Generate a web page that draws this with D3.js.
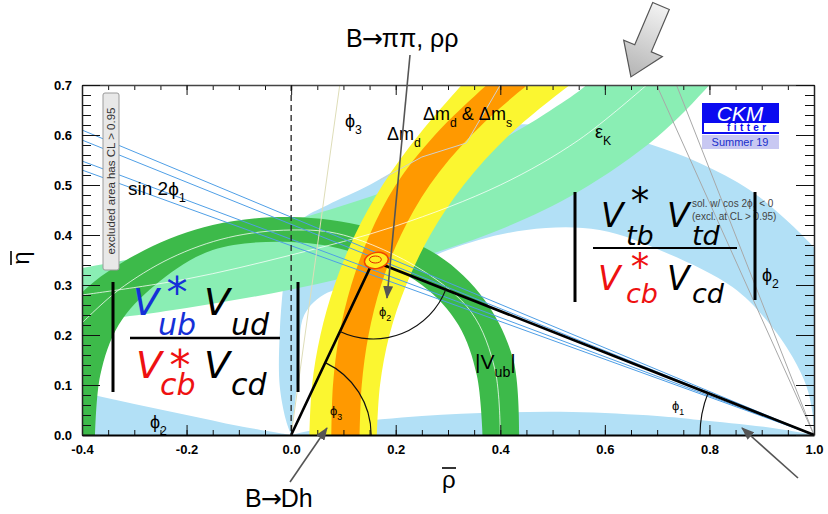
<!DOCTYPE html>
<html>
<head>
<meta charset="utf-8">
<title>CKM unitarity triangle</title>
<script src="https://d3js.org/d3.v7.min.js"></script>
<style>
body { margin: 0; background: #fff; }
text { font-family: "Liberation Sans", Arial, sans-serif; }
.formula { font-family: "DejaVu Sans", sans-serif; font-style: oblique; }
</style>
</head>
<body>
<svg id="chart" width="828" height="514"></svg>
<script>
// ---- values, in (rho-bar, eta-bar) ----
var xTicksMajor = [-0.4, -0.2, 0.0, 0.2, 0.4, 0.6, 0.8, 1.0];
var yTicksMajor = [0.0, 0.1, 0.2, 0.3, 0.4, 0.5, 0.6, 0.7];

var apex = [0.157, 0.348];
var fitPoint = [0.163, 0.349];

// phi2 (alpha) regions, light blue
var alphaOuter = [[1.02,0.35],[1.0,0.375],[0.947,0.43],[0.877,0.49],[0.781,0.544],[0.691,0.58],[0.6,0.605],[0.5,0.618],[0.42,0.62],[0.34,0.6],[0.25,0.56],[0.15,0.5],[0.07,0.46],[0.02,0.43],[-0.005,0.38],[-0.015,0.3],[-0.022,0.2],[-0.022,0.1],[-0.01,0.03],[0,0]];
var alphaInner = [[1.0,0],[0.997,0.044],[0.986,0.096],[0.959,0.156],[0.909,0.23],[0.844,0.296],[0.718,0.364],[0.59,0.41],[0.45,0.41],[0.3,0.37],[0.16,0.3],[0.07,0.285],[0.025,0.24],[0.015,0.15],[0.008,0.07],[0,0]];
var alphaLeftUpper = [[-0.45,0.095],[-0.4,0.085],[-0.3,0.062],[-0.2,0.04],[-0.1,0.018],[0,0]];
var alphaLeftLower = [[-0.45,0],[0,0]];
var alphaLowUpper = [[0,0],[0.1,0.022],[0.25,0.038],[0.4,0.045],[0.538,0.046],[0.7,0.038],[0.781,0.03],[0.921,0.014],[1,0]];
var alphaLowLower = [[0,0],[1,0]];

// epsilon_K, light green
var ekUpper = [[-0.45,0.325],[-0.4,0.334],[-0.2,0.374],[0,0.428],[0.2,0.495],[0.35,0.563],[0.45,0.619],[0.5,0.652],[0.565,0.70],[0.6,0.74]];
var ekLower = [[-0.45,0.218],[-0.4,0.225],[-0.2,0.254],[0,0.291],[0.2,0.341],[0.4,0.411],[0.55,0.487],[0.7,0.596],[0.8,0.70],[0.84,0.75]];
var ekCentre = [[-0.4,0.28],[-0.2,0.312],[0,0.36],[0.2,0.418],[0.4,0.5],[0.55,0.59],[0.68,0.7]];

// |Vub| ring, dark green
var vubOuter = [[0.436,0],[0.425,0.15],[0.37,0.27],[0.28,0.36],[0.15,0.415],[0,0.436],[-0.15,0.42],[-0.28,0.37],[-0.4,0.285],[-0.47,0.18],[-0.5,0]];
var vubInner = [[0.366,0],[0.355,0.12],[0.32,0.22],[0.25,0.3],[0.12,0.365],[0,0.386],[-0.15,0.37],[-0.26,0.3],[-0.33,0.22],[-0.365,0.12],[-0.375,0]];
var vubCentre = [[0.4,0],[0.39,0.13],[0.345,0.245],[0.25,0.33],[0.1,0.4],[0,0.41],[-0.12,0.395],[-0.23,0.354],[-0.33,0.29],[-0.4,0.224]];

// Delta m_d (yellow) and Delta m_d & Delta m_s (orange)
var dmdLeft  = [[0.035,0],[0.04,0.1],[0.056,0.2],[0.083,0.3],[0.122,0.4],[0.175,0.5],[0.244,0.6],[0.326,0.7],[0.37,0.75]];
var dmdRight = [[0.164,0],[0.17,0.1],[0.188,0.2],[0.22,0.3],[0.266,0.4],[0.33,0.5],[0.417,0.6],[0.533,0.7],[0.6,0.75]];
var dmsLeft  = [[0.077,0],[0.08,0.1],[0.092,0.2],[0.115,0.3],[0.15,0.4],[0.2,0.5],[0.275,0.6],[0.374,0.7],[0.43,0.75]];
var dmsRight = [[0.131,0],[0.135,0.1],[0.148,0.2],[0.172,0.3],[0.21,0.4],[0.265,0.5],[0.345,0.6],[0.452,0.7],[0.52,0.75]];
var dmsLine  = [[0.4,0.7],[0.335,0.584],[0.25,0.556],[0.17,0.51]];

// sin 2phi1: eta at rho = -0.4 of the lines through (1,0)
var s2bEta = [0.530, 0.548, 0.590, 0.610];
// cos 2phi1 < 0 solution: rho where the lines reach eta = 0.7
var s2bAltTop = [0.699, 0.737];
// phi3 faint line from the origin, rho at eta = 0.7
var gammaTop = [0.093];

// ---- layout ----
var svg = d3.select("#chart");
var margin = {top: 85, right: 14, bottom: 79, left: 82};
var width = 828 - margin.left - margin.right,
    height = 514 - margin.top - margin.bottom;

var x = d3.scaleLinear().domain([-0.4, 1.0]).range([0, width]);
var y = d3.scaleLinear().domain([0, 0.7]).range([height, 0]);

var defs = svg.append("defs");
defs.append("clipPath").attr("id", "plotclip")
  .append("rect").attr("width", width).attr("height", height);
defs.append("marker").attr("id", "head")
  .attr("markerUnits", "userSpaceOnUse")
  .attr("markerWidth", 13).attr("markerHeight", 10)
  .attr("refX", 12).attr("refY", 5).attr("orient", "auto")
  .append("path").attr("d", "M0,0L13,5L0,10Z").attr("fill", "#555");
var grad = defs.append("linearGradient").attr("id", "arrGrad")
  .attr("x1", 0).attr("y1", 0).attr("x2", 1).attr("y2", 0);
grad.append("stop").attr("offset", "0%").attr("stop-color", "#f2f2f2");
grad.append("stop").attr("offset", "100%").attr("stop-color", "#b4b4b4");

var g = svg.append("g")
  .attr("transform", "translate(" + margin.left + "," + margin.top + ")");
var plot = g.append("g").attr("clip-path", "url(#plotclip)");

var line = d3.line()
  .x(function(d) { return x(d[0]); })
  .y(function(d) { return y(d[1]); })
  .curve(d3.curveCatmullRom.alpha(0.5));
var straight = d3.line()
  .x(function(d) { return x(d[0]); })
  .y(function(d) { return y(d[1]); });

function band(a, b) {
  return line(a) + line(b.slice().reverse()).replace(/^M/, "L") + "Z";
}

// filled regions, back to front
var alphaCol = "#b2e0f6";
plot.append("path").attr("d", band(alphaOuter, alphaInner)).attr("fill", alphaCol);
plot.append("path").attr("d", band(alphaLeftUpper, alphaLeftLower)).attr("fill", alphaCol);
plot.append("path").attr("d", band(alphaLowUpper, alphaLowLower)).attr("fill", alphaCol);

plot.append("path").attr("d", band(ekUpper, ekLower)).attr("fill", "#8aeeb4");
plot.append("path").attr("d", band(vubOuter, vubInner)).attr("fill", "#3dba4a");
plot.append("path").attr("d", band(dmdLeft, dmdRight)).attr("fill", "#fbf630");
plot.append("path").attr("d", band(dmsLeft, dmsRight)).attr("fill", "#ff9900");

// faint central lines
plot.append("path").attr("d", line(ekCentre)).attr("fill", "none")
  .attr("stroke", "#ffffff").attr("stroke-opacity", 0.75).attr("stroke-width", 1);
plot.append("path").attr("d", line(vubCentre)).attr("fill", "none")
  .attr("stroke", "#ffffff").attr("stroke-opacity", 0.75).attr("stroke-width", 1);
plot.append("path").attr("d", straight(dmsLine)).attr("fill", "none")
  .attr("stroke", "#d0d0d0").attr("stroke-width", 1);

// sin 2phi1 lines
plot.selectAll(".s2b").data(s2bEta).enter().append("line")
  .attr("x1", x(1)).attr("y1", y(0))
  .attr("x2", x(-0.4)).attr("y2", function(d) { return y(d); })
  .attr("stroke", "#4f9fe6").attr("stroke-width", 1);
plot.selectAll(".s2balt").data(s2bAltTop).enter().append("line")
  .attr("x1", x(1)).attr("y1", y(0))
  .attr("x2", function(d) { return x(d); }).attr("y2", y(0.7))
  .attr("stroke", "#a8a8a8").attr("stroke-width", 1);
plot.selectAll(".gam").data(gammaTop).enter().append("line")
  .attr("x1", x(0)).attr("y1", y(0))
  .attr("x2", function(d) { return x(d); }).attr("y2", y(0.7))
  .attr("stroke", "#deddb8").attr("stroke-width", 1);

// rho = 0 dashed line
plot.append("line").attr("x1", x(0)).attr("x2", x(0)).attr("y1", 0).attr("y2", height)
  .attr("stroke", "#222").attr("stroke-width", 1.3).attr("stroke-dasharray", "6,4");

// triangle
var tri = [[0, 0], apex, [1, 0]];
plot.append("path").attr("d", straight(tri)).attr("fill", "none")
  .attr("stroke", "#000").attr("stroke-width", 2.6).attr("stroke-linejoin", "miter");

// angle arcs
function angleArc(v, p, q, r) {
  var cx = x(v[0]), cy = y(v[1]);
  var a0 = Math.atan2(y(p[1]) - cy, x(p[0]) - cx);
  var a1 = Math.atan2(y(q[1]) - cy, x(q[0]) - cx);
  if (a1 < a0) a1 += 2 * Math.PI;
  var pth = d3.path();
  pth.arc(cx, cy, r, a0, a1, false);
  return pth.toString();
}
plot.append("path").attr("d", angleArc([0, 0], apex, [1, 0], 80))
  .attr("fill", "none").attr("stroke", "#111").attr("stroke-width", 1.2);
plot.append("path").attr("d", angleArc(apex, [1, 0], [0, 0], 78))
  .attr("fill", "none").attr("stroke", "#111").attr("stroke-width", 1.2);
plot.append("path").attr("d", angleArc([1, 0], [0, 0], apex, 114))
  .attr("fill", "none").attr("stroke", "#111").attr("stroke-width", 1.2);

// global fit spot
plot.append("ellipse").attr("cx", x(fitPoint[0])).attr("cy", y(fitPoint[1]))
  .attr("rx", 12).attr("ry", 8).attr("transform", "rotate(-10," + x(fitPoint[0]) + "," + y(fitPoint[1]) + ")")
  .attr("fill", "#ffee22").attr("stroke", "#ee4400").attr("stroke-width", 1.5);
plot.append("ellipse").attr("cx", x(fitPoint[0]) - 1).attr("cy", y(fitPoint[1]) - 1)
  .attr("rx", 6).attr("ry", 3.5)
  .attr("fill", "none").attr("stroke", "#dd2200").attr("stroke-width", 1);

// ---- axes ----
var fmt = function(d) { return d.toFixed(1); };
function styleAxis(sel) {
  sel.attr("font-size", 13).attr("font-family", "Liberation Sans, Arial, sans-serif").attr("font-weight", "bold");
  sel.selectAll("line").attr("stroke", "#111");
}
var xMinor = x.ticks(28), yMinor = y.ticks(35);

g.append("g").attr("transform", "translate(0," + height + ")")
  .call(d3.axisBottom(x).tickValues(xMinor).tickSize(-5).tickFormat(""))
  .call(function(s) { s.select(".domain").remove(); styleAxis(s); });
g.append("g").attr("transform", "translate(0," + height + ")")
  .call(d3.axisBottom(x).tickValues(xTicksMajor).tickSizeInner(-10).tickSizeOuter(0).tickPadding(10).tickFormat(fmt))
  .call(function(s) { styleAxis(s); s.select(".domain").attr("stroke", "#000").attr("stroke-width", 2); });

g.append("g")
  .call(d3.axisTop(x).tickValues(xMinor).tickSize(-5).tickFormat(""))
  .call(function(s) { s.select(".domain").remove(); styleAxis(s); });
g.append("g")
  .call(d3.axisTop(x).tickValues(xTicksMajor).tickSizeInner(-10).tickSizeOuter(0).tickFormat(""))
  .call(function(s) { styleAxis(s); s.select(".domain").attr("stroke", "#444").attr("stroke-width", 1.3); });

g.append("g")
  .call(d3.axisLeft(y).tickValues(yMinor).tickSize(-9).tickFormat(""))
  .call(function(s) { s.select(".domain").remove(); styleAxis(s); });
g.append("g")
  .call(d3.axisLeft(y).tickValues(yTicksMajor).tickSizeInner(-18).tickSizeOuter(0).tickPadding(10).tickFormat(fmt))
  .call(function(s) { styleAxis(s); s.select(".domain").attr("stroke", "#222").attr("stroke-width", 1.5); });

g.append("g").attr("transform", "translate(" + width + ",0)")
  .call(d3.axisRight(y).tickValues(yMinor).tickSize(-9).tickFormat(""))
  .call(function(s) { s.select(".domain").remove(); styleAxis(s); });
g.append("g").attr("transform", "translate(" + width + ",0)")
  .call(d3.axisRight(y).tickValues(yTicksMajor).tickSizeInner(-18).tickSizeOuter(0).tickFormat(""))
  .call(function(s) { styleAxis(s); s.select(".domain").attr("stroke", "#222").attr("stroke-width", 1.5); });

// axis titles
svg.append("text").attr("x", 442).attr("y", 488).style("font-size", "24px").text("ρ");
svg.append("line").attr("x1", 442).attr("x2", 456).attr("y1", 468).attr("y2", 468)
  .attr("stroke", "#000").attr("stroke-width", 1.6);
var eta = svg.append("g").attr("transform", "translate(29,258) rotate(-90)");
eta.append("text").attr("text-anchor", "middle").style("font-size", "24px").text("η");
eta.append("line").attr("x1", -7).attr("x2", 7).attr("y1", -18).attr("y2", -18)
  .attr("stroke", "#000").attr("stroke-width", 1.6);

// ---- labels in the plot ----
function label(px, py, parts, size, extra) {
  var t = svg.append("text").attr("x", px).attr("y", py).style("font-size", size + "px");
  if (extra) extra(t);
  var cur = 0;
  parts.forEach(function(p) {
    var off = p[1] === "sub" ? size * 0.38 : 0;
    var ts = t.append("tspan").attr("dy", off - cur).text(p[0]);
    if (p[1] === "sub") ts.style("font-size", (size * 0.68) + "px");
    cur = off;
  });
  return t;
}
label(128, 195, [["sin 2ϕ"], ["1", "sub"]], 19);
label(345, 127, [["ϕ"], ["3", "sub"]], 18);
label(387, 140, [["Δm"], ["d", "sub"]], 18);
label(423, 120, [["Δm"], ["d", "sub"], [" & Δm"], ["s", "sub"]], 18);
label(595, 138, [["ε"], ["K", "sub"]], 18);
label(762, 281, [["ϕ"], ["2", "sub"]], 18);
label(150, 428, [["ϕ"], ["2", "sub"]], 18);
label(330, 415, [["ϕ"], ["3", "sub"]], 13);
label(379, 316, [["ϕ"], ["2", "sub"]], 13);
label(672, 410, [["ϕ"], ["1", "sub"]], 13);
label(475, 369, [["|V"], ["ub", "sub"], ["|"]], 21);

label(692, 207, [["sol. w/ cos 2ϕ"], ["1", "sub"], [" < 0"]], 10, function(t) { t.attr("fill", "#444"); });
label(692, 220, [["(excl. at CL > 0.95)"]], 10, function(t) { t.attr("fill", "#444"); });

// excluded-area note
svg.append("rect").attr("x", 103).attr("y", 93).attr("width", 16).attr("height", 177)
  .attr("rx", 2).attr("fill", "#e8e8e8").attr("stroke", "#9a9a9a").attr("stroke-width", 1);
svg.append("text").attr("transform", "translate(115,181) rotate(-90)")
  .attr("text-anchor", "middle").style("font-size", "11.5px").attr("fill", "#333")
  .text("excluded area has CL > 0.95");

// CKMfitter logo
svg.append("rect").attr("x", 702).attr("y", 103).attr("width", 77).attr("height", 20).attr("fill", "#0b0bf0");
svg.append("text").attr("x", 740).attr("y", 121).attr("text-anchor", "middle")
  .style("font-size", "21px").style("font-style", "italic").attr("fill", "#fff").text("CKM");
svg.append("rect").attr("x", 702).attr("y", 123).attr("width", 2).attr("height", 11).attr("fill", "#0b0bf0");
svg.append("rect").attr("x", 702).attr("y", 132).attr("width", 77).attr("height", 2).attr("fill", "#0b0bf0");
svg.append("text").attr("x", 727).attr("y", 131).style("font-size", "10px").style("font-weight", "bold")
  .style("letter-spacing", "3.4px").attr("fill", "#0b0bf0").text("fitter");
svg.append("rect").attr("x", 702).attr("y", 135).attr("width", 77).attr("height", 14).attr("fill", "#c8c8f2");
svg.append("text").attr("x", 740).attr("y", 146).attr("text-anchor", "middle")
  .style("font-size", "11px").attr("fill", "#1a2fcc").text("Summer 19");

// ---- big ratio formulas ----
function piece(px, py, txt, size, col, anchor) {
  svg.append("text").attr("class", "formula").attr("x", px).attr("y", py)
    .attr("text-anchor", anchor || "start").style("font-size", size + "px")
    .attr("fill", col).text(txt);
}
function bar(px, y1, y2) {
  svg.append("line").attr("x1", px).attr("x2", px).attr("y1", y1).attr("y2", y2)
    .attr("stroke", "#000").attr("stroke-width", 3);
}
var blue = "#1530d8", red = "#ee1111", blk = "#000";
// left: |Vub* Vud / Vcb* Vcd|
bar(113, 282, 392); bar(298, 282, 392);
piece(133, 315, "V", 38, blue);
piece(177, 307, "*", 42, blue, "middle");
piece(158, 335, "ub", 30, blue);
piece(204, 315, "V", 38, blk);
piece(231, 335, "ud", 30, blk);
svg.append("line").attr("x1", 130).attr("x2", 280).attr("y1", 338).attr("y2", 338)
  .attr("stroke", "#000").attr("stroke-width", 2.5);
piece(136, 378, "V", 38, red);
piece(180, 380, "*", 42, red, "middle");
piece(160, 395, "cb", 30, red);
piece(204, 378, "V", 38, blk);
piece(231, 395, "cd", 30, blk);

// right: |Vtb* Vtd / Vcb* Vcd|
bar(575, 192, 302); bar(755, 192, 300);
piece(601, 227, "V", 33, blk);
piece(640, 214, "*", 37, blk, "middle");
piece(626, 245, "tb", 27, blk);
piece(667, 227, "V", 33, blk);
piece(692, 245, "td", 27, blk);
svg.append("line").attr("x1", 593).attr("x2", 737).attr("y1", 248).attr("y2", 248)
  .attr("stroke", "#000").attr("stroke-width", 2.2);
piece(598, 290, "V", 33, red);
piece(640, 280, "*", 37, red, "middle");
piece(626, 303, "cb", 27, red);
piece(667, 290, "V", 33, blk);
piece(692, 303, "cd", 27, blk);

// ---- annotations outside ----
function reaction(px, py, before, after, size) {
  var t = svg.append("text").attr("x", px).attr("y", py).style("font-size", size + "px");
  t.append("tspan").text(before);
  t.append("tspan").style("font-family", "DejaVu Sans, sans-serif").attr("dx", -1).text("→");
  t.append("tspan").attr("dx", -1).text(after);
}
reaction(346, 47, "B", "ππ, ρρ", 25);
reaction(245, 507, "B", "Dh", 25);
function arrow(x1, y1, x2, y2) {
  svg.append("line").attr("x1", x1).attr("y1", y1).attr("x2", x2).attr("y2", y2)
    .attr("stroke", "#555").attr("stroke-width", 1.6).attr("marker-end", "url(#head)");
}
arrow(410, 55, 387, 298);
arrow(290, 482, 327, 428);
arrow(798, 478, 742, 428);

// big hollow arrow pointing at the cos 2phi1 < 0 lines
var bigArrow = [[0,-9],[46,-9],[46,-21],[77,0],[46,21],[46,9],[0,9]];
svg.append("path").attr("d", "M" + bigArrow.map(function(p) { return p.join(","); }).join("L") + "Z")
  .attr("transform", "translate(661,6) rotate(113)")
  .attr("fill", "url(#arrGrad)").attr("stroke", "#555").attr("stroke-width", 1.2);
</script>
</body>
</html>
